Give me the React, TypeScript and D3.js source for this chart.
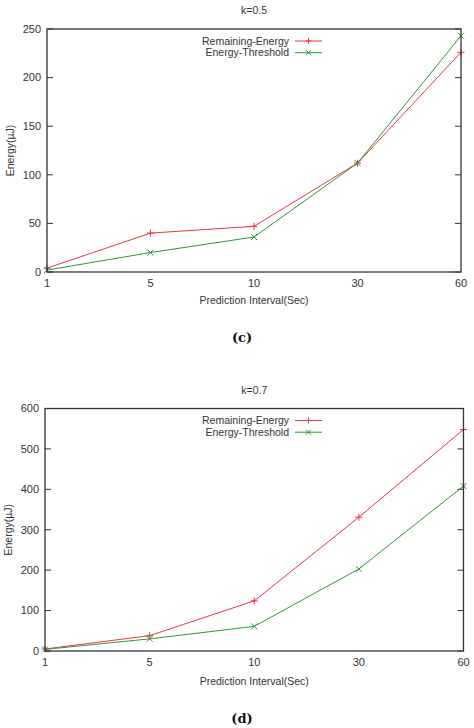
import * as d3 from "d3";

// Prediction intervals on the x axis (evenly spaced categories)
const intervals = ["1", "5", "10", "30", "60"];

// k = 0.5
const remainingK05 = [4, 40, 47, 112, 226];
const thresholdK05 = [2, 20, 36, 112, 243];
const yTicksK05 = [0, 50, 100, 150, 200, 250];

// k = 0.7
const remainingK07 = [5, 38, 124, 331, 548];
const thresholdK07 = [4, 30, 61, 203, 408];
const yTicksK07 = [0, 100, 200, 300, 400, 500, 600];

const RED = "#ee3344";
const GREEN = "#2f9637";
const FRAME = "#333";
const FONT = "'Liberation Sans', Arial, sans-serif";

type PanelProps = {
  title: string;
  caption: string;
  remaining: number[];
  threshold: number[];
  yTicks: number[];
  box: { left: number; right: number; top: number; bottom: number };
  titleY: number;
  xLabelY: number;
  captionY: number;
};

const Plus = ({ x, y, r = 3.5 }: { x: number; y: number; r?: number }) => (
  <path d={`M${x - r},${y}H${x + r}M${x},${y - r}V${y + r}`} stroke={RED} strokeWidth={1} />
);

const Cross = ({ x, y, r = 3 }: { x: number; y: number; r?: number }) => (
  <path
    d={`M${x - r},${y - r}L${x + r},${y + r}M${x - r},${y + r}L${x + r},${y - r}`}
    stroke={GREEN}
    strokeWidth={1}
  />
);

const Panel = ({ title, caption, remaining, threshold, yTicks, box, titleY, xLabelY, captionY }: PanelProps) => {
  const x = d3.scalePoint<string>().domain(intervals).range([box.left, box.right]);
  const y = d3
    .scaleLinear()
    .domain([0, yTicks[yTicks.length - 1]])
    .range([box.bottom, box.top]);

  const line = d3
    .line<number>()
    .x((_, i) => x(intervals[i])!)
    .y((d) => y(d));

  const midX = (box.left + box.right) / 2;
  const midY = (box.top + box.bottom) / 2;

  // legend sits near the top centre of the frame
  const legX = 289;
  const legY1 = box.top + 12;
  const legY2 = legY1 + 11.7;

  return (
    <g fontFamily={FONT} fill={FRAME}>
      <text x={midX} y={titleY} textAnchor="middle" fontSize={10.5}>
        {title}
      </text>

      {/* y ticks, mirrored on the right edge */}
      {yTicks.map((t) => (
        <g key={t}>
          <line x1={box.left} x2={box.left + 6} y1={y(t)} y2={y(t)} stroke={FRAME} />
          <line x1={box.right - 6} x2={box.right} y1={y(t)} y2={y(t)} stroke={FRAME} />
          <text x={box.left - 6} y={y(t)} dy="0.35em" textAnchor="end" fontSize={11}>
            {t}
          </text>
        </g>
      ))}

      {intervals.map((c) => (
        <text key={c} x={x(c)} y={box.bottom + 15} textAnchor="middle" fontSize={11}>
          {c}
        </text>
      ))}

      <text
        transform={`translate(${box.left - 33},${midY}) rotate(-90)`}
        textAnchor="middle"
        fontSize={10.5}
      >
        Energy(µJ)
      </text>
      <text x={midX} y={xLabelY} textAnchor="middle" fontSize={10.5}>
        Prediction Interval(Sec)
      </text>

      <path d={line(remaining) ?? ""} fill="none" stroke={RED} strokeWidth={1} />
      <path d={line(threshold) ?? ""} fill="none" stroke={GREEN} strokeWidth={1} />
      {remaining.map((v, i) => (
        <Plus key={`r${i}`} x={x(intervals[i])!} y={y(v)} />
      ))}
      {threshold.map((v, i) => (
        <Cross key={`t${i}`} x={x(intervals[i])!} y={y(v)} />
      ))}

      <rect
        x={box.left}
        y={box.top}
        width={box.right - box.left}
        height={box.bottom - box.top}
        fill="none"
        stroke={FRAME}
        strokeWidth={1.3}
      />

      {/* legend */}
      <text x={legX} y={legY1} dy="0.35em" textAnchor="end" fontSize={10.5}>
        Remaining-Energy
      </text>
      <line x1={legX + 6} x2={legX + 33} y1={legY1} y2={legY1} stroke={RED} />
      <Plus x={legX + 19.5} y={legY1} r={3} />
      <text x={legX} y={legY2} dy="0.35em" textAnchor="end" fontSize={10.5}>
        Energy-Threshold
      </text>
      <line x1={legX + 6} x2={legX + 33} y1={legY2} y2={legY2} stroke={GREEN} />
      <Cross x={legX + 19.5} y={legY2} r={2.5} />

      <text
        x={242}
        y={captionY}
        textAnchor="middle"
        fontSize={13}
        fontWeight="bold"
        fontFamily="'DejaVu Serif', 'Liberation Serif', serif"
        fill="#111"
      >
        {caption}
      </text>
    </g>
  );
};

export default function App() {
  return (
    <svg
      width={474}
      height={728}
      style={{ position: "absolute", left: 0, top: 0, background: "#fff" }}
    >
      <Panel
        title="k=0.5"
        caption="(c)"
        remaining={remainingK05}
        threshold={thresholdK05}
        yTicks={yTicksK05}
        box={{ left: 47, right: 461, top: 29, bottom: 272 }}
        titleY={14}
        xLabelY={304}
        captionY={342}
      />
      <Panel
        title="k=0.7"
        caption="(d)"
        remaining={remainingK07}
        threshold={thresholdK07}
        yTicks={yTicksK07}
        box={{ left: 45, right: 463.5, top: 408.5, bottom: 651 }}
        titleY={394}
        xLabelY={685}
        captionY={723}
      />
    </svg>
  );
}
